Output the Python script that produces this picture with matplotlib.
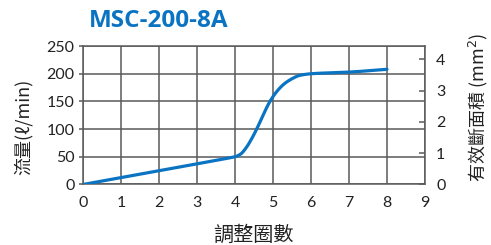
import numpy as np
import matplotlib
matplotlib.use("Agg")
import matplotlib.pyplot as plt

title = "MSC-200-8A"
turns = [0, 2, 3.85, 4.0, 4.15, 4.3, 4.45, 4.57, 4.75, 4.92, 5.1, 5.3, 5.5, 5.7, 6.0, 7.0, 8.0]
flow = [0, 25, 48, 50, 55, 67, 84, 100, 127, 150, 168, 182, 191, 197, 200, 203, 208]
xticks = [0, 1, 2, 3, 4, 5, 6, 7, 8, 9]
yticks = [0, 50, 100, 150, 200, 250]
area_ticks = [0, 1, 2, 3, 4]
area_max = 4.42

blue = "#0a74c2"
grid_c = "#5a5a5a"
cjk = ["Noto Sans CJK TC", "DejaVu Sans"]
num_font = "Lato"

fig = plt.figure(figsize=(4.91, 2.45), dpi=100)
ax = fig.add_axes([0.169, 0.247, 0.8656 - 0.169, 0.812 - 0.247])

def pchip(x, y, xs):
    x = np.asarray(x, float); y = np.asarray(y, float)
    h = np.diff(x); d = np.diff(y) / h
    m = np.zeros_like(y)
    for k in range(1, len(x) - 1):
        if d[k-1] * d[k] > 0:
            w1 = 2 * h[k] + h[k-1]; w2 = h[k] + 2 * h[k-1]
            m[k] = (w1 + w2) / (w1 / d[k-1] + w2 / d[k])
    m[0] = d[0]; m[-1] = d[-1]
    out = np.empty_like(xs)
    for i, xv in enumerate(xs):
        k = min(np.searchsorted(x, xv) - 1, len(x) - 2); k = max(k, 0)
        t = (xv - x[k]) / h[k]
        h00 = 2*t**3 - 3*t**2 + 1; h10 = t**3 - 2*t**2 + t
        h01 = -2*t**3 + 3*t**2; h11 = t**3 - t**2
        out[i] = h00*y[k] + h10*h[k]*m[k] + h01*y[k+1] + h11*h[k]*m[k+1]
    return out

xs = np.linspace(turns[0], turns[-1], 500)
ax.plot(xs, pchip(turns, flow, xs), color=blue, lw=2.3, solid_capstyle="round", zorder=3)

ax.set_xlim(0, 9)
ax.set_ylim(0, 250)
ax.set_xticks(xticks)
ax.set_yticks(yticks)
ax.grid(True, color=grid_c, lw=1.1)
for s in ax.spines.values():
    s.set_color(grid_c); s.set_linewidth(1.1)
ax.tick_params(axis="x", length=0, pad=8, labelsize=11.5, colors="#222222")
ax.tick_params(axis="y", length=3, width=1.1, color=grid_c, pad=3, labelsize=11.5, labelcolor="#222222")
for lab in ax.get_xticklabels() + ax.get_yticklabels():
    lab.set_fontfamily(num_font)

ax2 = ax.twinx()
ax2.set_ylim(0, area_max)
ax2.set_yticks(area_ticks)
ax2.tick_params(axis="y", direction="in", length=4, width=1.1, color=grid_c, pad=8,
                labelsize=11.5, labelcolor="#222222")
for lab in ax2.get_yticklabels():
    lab.set_fontfamily(num_font)
for s in ax2.spines.values():
    s.set_visible(False)

fig.text(0.324, 0.915, title, color=blue, fontsize=17.5, fontweight="bold",
         family="Open Sans", ha="center", va="center")
fig.text(0.047, 0.484, "流量(ℓ/min)", rotation=90, ha="center", va="center",
         fontsize=13, family=cjk, color="#222222")
fig.text(0.517, 0.04, "調整圈數", ha="center", va="center",
         fontsize=14.5, family=cjk, color="#222222")
fig.text(0.975, 0.56, "有效斷面積 (mm$^2$)", rotation=90, ha="center", va="center",
         fontsize=13, family=cjk, color="#222222")

fig.savefig("out.png", dpi=100)
